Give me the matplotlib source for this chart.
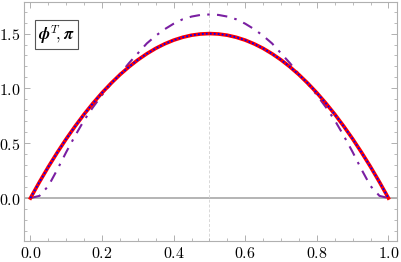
import matplotlib
matplotlib.use("Agg")
import matplotlib.pyplot as plt
from matplotlib.ticker import MultipleLocator

plt.rcParams['mathtext.fontset'] = 'cm'
plt.rcParams['font.family'] = ['DejaVu Serif']

x = [0.0, 0.025, 0.05, 0.075, 0.1, 0.125, 0.15, 0.175, 0.2, 0.225, 0.25, 0.275, 0.3,
     0.325, 0.35, 0.375, 0.4, 0.425, 0.45, 0.475, 0.5, 0.525, 0.55, 0.575, 0.6, 0.625,
     0.65, 0.675, 0.7, 0.725, 0.75, 0.775, 0.8, 0.825, 0.85, 0.875, 0.9, 0.925, 0.95,
     0.975, 1.0]
red = [0.0, 0.146, 0.285, 0.416, 0.54, 0.656, 0.765, 0.866, 0.96, 1.046, 1.125, 1.196,
       1.26, 1.316, 1.365, 1.406, 1.44, 1.466, 1.485, 1.496, 1.5, 1.496, 1.485, 1.466,
       1.44, 1.406, 1.365, 1.316, 1.26, 1.196, 1.125, 1.046, 0.96, 0.866, 0.765, 0.656,
       0.54, 0.416, 0.285, 0.146, 0.0]
blue = list(red)
purple = [0.0, 0.02, 0.11, 0.26, 0.42, 0.57, 0.71, 0.83, 0.94, 1.04, 1.13, 1.23, 1.32,
          1.41, 1.48, 1.54, 1.59, 1.63, 1.655, 1.67, 1.674, 1.67, 1.655, 1.63, 1.59, 1.54,
          1.48, 1.41, 1.32, 1.23, 1.13, 1.04, 0.94, 0.83, 0.71, 0.57, 0.42, 0.26, 0.11,
          0.02, 0.0]

fig = plt.figure(figsize=(4.01, 2.62), dpi=100)
ax = fig.add_axes([0.061, 0.080, 0.929, 0.912])

ax.axhline(0, color='#a0a0a0', lw=1.1, zorder=1)
ax.axvline(0.5, color='#d8d8d8', lw=0.7, ls=(0, (3, 2)), zorder=1)

ax.plot(x, purple, color='#7a1fa2', lw=1.5, ls=(0, (5, 3.5, 1.2, 3.5)), zorder=3)
ax.plot(x, red, color='#ff0000', lw=2.6, zorder=4)
ax.plot(x, blue, color='#0000ff', lw=1.3, ls=(0, (1, 1.2)), zorder=5)

ax.set_xlim(-0.0168, 1.024)
ax.set_ylim(-0.392, 1.787)

ax.xaxis.set_major_locator(MultipleLocator(0.2))
ax.xaxis.set_minor_locator(MultipleLocator(0.05))
ax.yaxis.set_major_locator(MultipleLocator(0.5))
ax.yaxis.set_minor_locator(MultipleLocator(0.1))

def fmt(v, pos):
    return r'$%.1f$' % v
ax.xaxis.set_major_formatter(plt.FuncFormatter(fmt))
ax.yaxis.set_major_formatter(plt.FuncFormatter(fmt))

for s in ax.spines.values():
    s.set_color('#b0b0b0')
    s.set_linewidth(0.8)
ax.tick_params(which='both', direction='in', top=True, right=True, color='#b0b0b0',
               labelsize=11.5, pad=2.5)
ax.tick_params(which='major', length=4, width=0.7)
ax.tick_params(which='minor', length=2.2, width=0.6)

ax.text(0.022, 1.49, r'$\boldsymbol{\phi}^{T}\!,\boldsymbol{\pi}$', fontsize=12,
        ha='left', va='center',
        bbox=dict(boxstyle='square,pad=0.18', facecolor='white', edgecolor='#555555', lw=0.8),
        zorder=6)

fig.savefig('out.png', dpi=100)
